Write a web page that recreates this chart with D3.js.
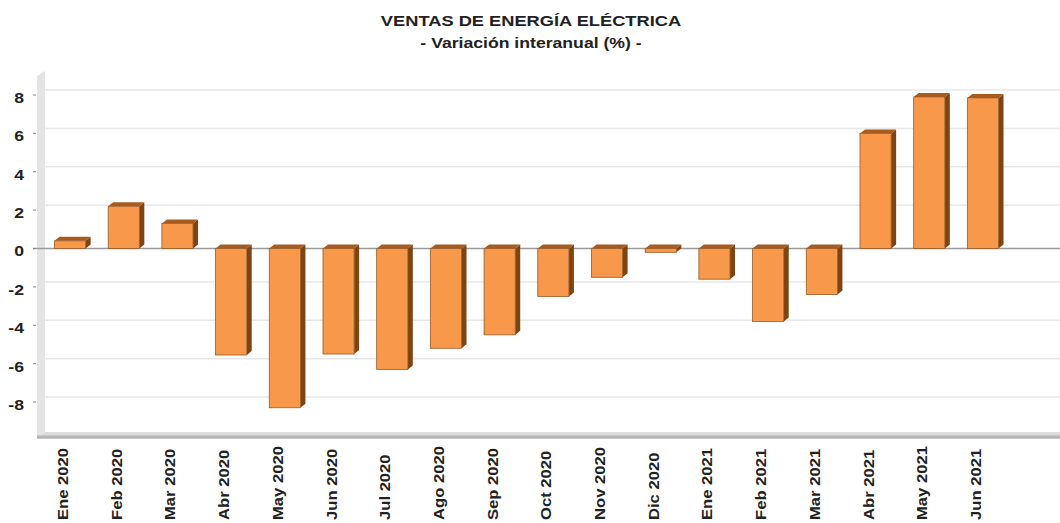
<!DOCTYPE html>
<html>
<head>
<meta charset="utf-8">
<script src="https://cdn.jsdelivr.net/npm/d3@7"></script>
<style>
  body { margin: 0; background: #fff; }
  text { font-family: "Liberation Sans", Arial, sans-serif; font-weight: bold; fill: #222; }
</style>
</head>
<body>
<div id="viz"></div>
<script>
const months = ["Ene 2020", "Feb 2020", "Mar 2020", "Abr 2020", "May 2020", "Jun 2020",
  "Jul 2020", "Ago 2020", "Sep 2020", "Oct 2020", "Nov 2020", "Dic 2020",
  "Ene 2021", "Feb 2021", "Mar 2021", "Abr 2021", "May 2021", "Jun 2021"]
const variation = [0.4, 2.2, 1.3, -5.55, -8.3, -5.5, -6.3, -5.2, -4.5, -2.5, -1.5, -0.2,
  -1.6, -3.8, -2.4, 6.0, 7.9, 7.85]
const yTicks = [-8, -6, -4, -2, 0, 2, 4, 6, 8]

const width = 1060, height = 523
const stretch = 1.26 // the source picture is widened, text too
const depth = { dx: 5, dy: 4 }
const colors = {
  front: "#f7984a",
  outline: "#9a5a24",
  top: "#a65b1f",
  side: "#7d4414",
  grid: "#e8e8e8",
  wall: "#e4e4e4",
  zero: "#9a9a9a",
}

const svg = d3.select("#viz").append("svg")
  .attr("width", width).attr("height", height)

const x = d3.scaleBand().domain(months).range([43.2, 1009.8])
  .paddingInner(0.42).paddingOuter(0.21)
const y = d3.scaleLinear().domain([-8, 8]).range([402, 95])

// title
const title = svg.append("g").attr("transform", `translate(531,0) scale(${stretch},1)`)
title.append("text").attr("y", 26).attr("text-anchor", "middle").style("font-size", "14.5px")
  .text("VENTAS DE ENERGÍA ELÉCTRICA")
title.append("text").attr("y", 48).attr("text-anchor", "middle").style("font-size", "14px")
  .text("- Variación interanual (%) -")

// back wall grid lines (shifted for depth)
const plotLeft = 37, wallBack = plotLeft + 8, floorY = 432
svg.append("g").selectAll("line").data(yTicks.filter(d => d !== 0)).join("line")
  .attr("x1", wallBack).attr("x2", width)
  .attr("y1", d => y(d) - 5).attr("y2", d => y(d) - 5)
  .attr("stroke", colors.grid).attr("stroke-width", 1.5)

// left wall
svg.append("path")
  .attr("d", `M${plotLeft},76 L${wallBack},71 L${wallBack},${floorY} L${plotLeft},${floorY + 7} Z`)
  .attr("fill", colors.wall)

// floor
svg.append("path")
  .attr("d", `M${wallBack},${floorY} L${width},${floorY} L${width},${floorY + 7} L${plotLeft},${floorY + 7} Z`)
  .attr("fill", "#dcdcdc")
svg.append("line").attr("x1", plotLeft).attr("x2", width)
  .attr("y1", floorY + 5).attr("y2", floorY + 5)
  .attr("stroke", "#b5b5b5").attr("stroke-width", 3)

// zero line
svg.append("line").attr("x1", 33).attr("x2", width)
  .attr("y1", y(0)).attr("y2", y(0))
  .attr("stroke", colors.zero).attr("stroke-width", 1.5)

// y ticks and labels
const yAx = svg.append("g")
yAx.selectAll("line").data(yTicks).join("line")
  .attr("x1", 33).attr("x2", 36)
  .attr("y1", d => y(d)).attr("y2", d => y(d))
  .attr("stroke", "#888")
yAx.selectAll("text").data(yTicks).join("text")
  .attr("transform", d => `translate(24,${y(d) + 3}) scale(${stretch},1)`)
  .attr("text-anchor", "end").attr("dy", "0.35em")
  .style("font-size", "14px")
  .text(d => d)

// bars with a flat 3D look
const bars = svg.append("g").selectAll("g").data(months).join("g")
bars.each(function (m, i) {
  const g = d3.select(this)
  const v = variation[i]
  const bx = x(m), bw = x.bandwidth()
  const yTop = y(Math.max(0, v)), yBot = y(Math.min(0, v))
  const { dx, dy } = depth
  g.append("path")
    .attr("d", `M${bx + bw},${yTop} L${bx + bw + dx},${yTop - dy} L${bx + bw + dx},${yBot - dy} L${bx + bw},${yBot} Z`)
    .attr("fill", colors.side)
  g.append("path")
    .attr("d", `M${bx},${yTop} L${bx + dx},${yTop - dy} L${bx + bw + dx},${yTop - dy} L${bx + bw},${yTop} Z`)
    .attr("fill", colors.top)
  g.append("rect")
    .attr("x", bx).attr("y", yTop)
    .attr("width", bw).attr("height", Math.max(1, yBot - yTop))
    .attr("fill", colors.front).attr("stroke", colors.outline).attr("stroke-width", 0.8)
})

// x labels, rotated
svg.append("g").selectAll("text").data(months).join("text")
  .attr("transform", d => `translate(${x(d) + x.bandwidth() / 2 - 2},520) scale(1.15,1.28) rotate(-90)`)
  .attr("text-anchor", "start")
  .style("font-size", "13px")
  .text(d => d)
</script>
</body>
</html>
